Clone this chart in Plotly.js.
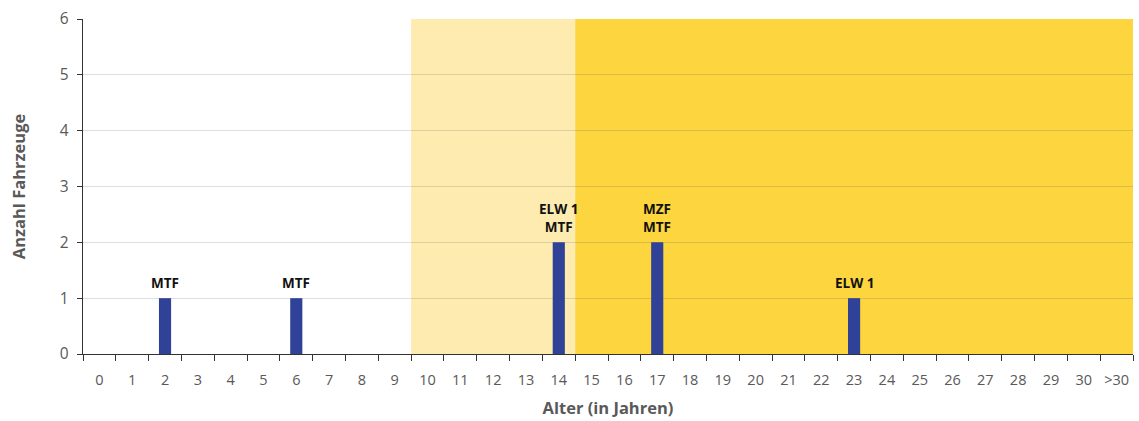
<!DOCTYPE html>
<html>
<head>
<meta charset="utf-8">
<script src="https://cdn.plot.ly/plotly-3.0.1.min.js"></script>
<style>html,body{margin:0;padding:0;background:#fff;}#chart{width:1139px;height:421px;}</style>
</head>
<body>
<div id="chart"></div>
<script>
const categories = ["0","1","2","3","4","5","6","7","8","9","10","11","12","13","14","15","16","17","18","19","20","21","22","23","24","25","26","27","28","29","30",">30"];
const counts = [0,0,1,0,0,0,1,0,0,0,0,0,0,0,2,0,0,2,0,0,0,0,0,1,0,0,0,0,0,0,0,0];
const vehicleLabels = ["","","MTF","","","","MTF","","","","","","","","ELW 1<br>MTF","","","MZF<br>MTF","","","","","","ELW 1","","","","","","","",""];

const trace = {
  type: 'bar',
  x: categories,
  y: counts,
  width: 0.37,
  marker: {color: '#2F4298'},
  hoverinfo: 'x+y'
};

const annotations = [];
vehicleLabels.forEach((t, i) => {
  if (!t) return;
  annotations.push({
    x: categories[i], y: counts[i], xref: 'x', yref: 'y',
    text: '<b>' + t + '</b>', showarrow: false,
    yanchor: 'bottom', yshift: 4,
    font: {family: 'Open Sans, sans-serif', size: 13.5, color: '#111'}
  });
});

const layout = {
  width: 1139, height: 421,
  margin: {l: 83, r: 6, t: 19, b: 67},
  paper_bgcolor: '#fff',
  plot_bgcolor: '#fff',
  showlegend: false,
  font: {family: 'Open Sans, sans-serif', color: '#595959'},
  annotations: annotations,
  xaxis: {
    type: 'category',
    categoryorder: 'array',
    categoryarray: categories,
    range: [-0.5, 31.5],
    tickson: 'boundaries',
    tickangle: 0,
    ticks: 'outside', ticklen: 6, tickcolor: '#333', tickwidth: 1,
    ticklabelstandoff: 12,
    showline: true, linecolor: '#333', linewidth: 1.3,
    showgrid: false,
    tickfont: {size: 14.5, color: '#595959'},
    title: {text: '<b>Alter (in Jahren)</b>', font: {size: 16.5, color: '#595959'}, standoff: 14},
    fixedrange: true
  },
  yaxis: {
    range: [0, 6],
    dtick: 1,
    ticks: 'outside', ticklen: 5, tickcolor: '#333',
    ticklabelstandoff: 5,
    showline: true, linecolor: '#333', linewidth: 1.3,
    showgrid: true, gridcolor: 'rgba(90,90,90,0.2)', gridwidth: 1,
    zeroline: false,
    tickfont: {size: 15.5, color: '#595959'},
    title: {text: '<b>Anzahl Fahrzeuge</b>', font: {size: 16.5, color: '#595959'}, standoff: 30},
    fixedrange: true
  },
  shapes: [
    {type: 'rect', xref: 'x', yref: 'paper', x0: 9.5, x1: 14.5, y0: 0, y1: 1, fillcolor: '#FEEBB0', line: {width: 0}, layer: 'below'},
    {type: 'rect', xref: 'x', yref: 'paper', x0: 14.5, x1: 31.5, y0: 0, y1: 1, fillcolor: '#FDD53F', line: {width: 0}, layer: 'below'}
  ]
};

Plotly.newPlot('chart', [trace], layout, {displayModeBar: false, staticPlot: true});
</script>
</body>
</html>
